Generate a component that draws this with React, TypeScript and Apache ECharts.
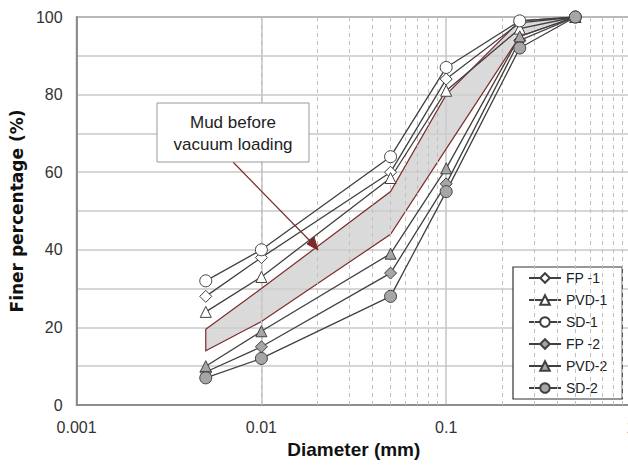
import React, { useEffect, useRef } from "react";
import * as echarts from "echarts";

const diameters = [0.005, 0.01, 0.05, 0.1, 0.25, 0.5];
const fp1 = [28, 38, 60, 84, 98.5, 100];
const pvd1 = [24, 33, 58.5, 81, 97, 100];
const sd1 = [32, 40, 64, 87, 99, 100];
const fp2 = [8.5, 15, 34, 57, 94, 100];
const pvd2 = [10, 19, 39, 61, 95, 100];
const sd2 = [7, 12, 28, 55, 92, 100];
const bandUpper = [19.5, 30, 55, 80, 99, 100];
const bandLower = [14, 21.5, 44, 66, 95, 100];
const minorGridValues = [
  0.002, 0.003, 0.004, 0.005, 0.006, 0.007, 0.008, 0.009,
  0.02, 0.03, 0.04, 0.05, 0.06, 0.07, 0.08, 0.09,
  0.2, 0.3, 0.4, 0.5, 0.6, 0.7, 0.8, 0.9,
];
const seriesNames = ["FP -1", "PVD-1", "SD-1", "FP -2", "PVD-2", "SD-2"];
const annotationText = "Mud before\nvacuum loading";

const LINE = "#404040";
const RED = "#7d2b2b";

export default function App() {
  const ref = useRef<HTMLDivElement>(null);
  useEffect(() => {
    if (!ref.current) return;
    const chart = echarts.init(ref.current, null, { renderer: "svg" });
    const pair = (ys: number[]) => diameters.map((d, i) => [d, ys[i]]);
    const mk = (name: string, ys: number[], symbol: string, size: number, fill: string) => ({
      name,
      type: "line",
      data: pair(ys),
      symbol,
      symbolSize: size,
      showAllSymbol: true,
      lineStyle: { color: LINE, width: 1.3 },
      itemStyle: { color: fill, borderColor: LINE, borderWidth: 1 },
      z: 5,
    });
    const option: any = {
      animation: false,
      backgroundColor: "#ffffff",
      textStyle: { fontFamily: "Liberation Sans, Arial, sans-serif" },
      grid: {
        left: 76,
        top: 17,
        right: 9,
        bottom: 60,
        show: true,
        borderColor: "#666",
        borderWidth: 1.5,
        backgroundColor: "transparent",
      },
      xAxis: {
        type: "log",
        logBase: 10,
        min: 0.001,
        max: 1,
        name: "Diameter (mm)",
        nameLocation: "middle",
        nameGap: 33,
        nameTextStyle: { fontSize: 19, fontWeight: "bold", color: "#111", fontFamily: "Liberation Sans, Arial, sans-serif" },
        axisLine: { show: true, lineStyle: { color: "#808080", width: 1.5 } },
        axisTick: { show: false },
        axisLabel: { fontSize: 16, color: "#333", margin: 14, fontFamily: "Liberation Sans, Arial, sans-serif" },
        splitLine: { show: true, lineStyle: { color: "#c4c4c4", width: 1.5 } },
      },
      yAxis: {
        type: "value",
        min: 0,
        max: 100,
        interval: 10,
        name: "Finer percentage (%)",
        nameLocation: "middle",
        nameGap: 48,
        nameTextStyle: { fontSize: 17, fontWeight: "bold", color: "#111", fontFamily: "DejaVu Sans, sans-serif" },
        axisLine: { show: true, lineStyle: { color: "#808080", width: 1.5 } },
        axisTick: { show: false },
        axisLabel: {
          fontSize: 16,
          color: "#333",
          margin: 14,
          formatter: (v: number) => (v % 20 === 0 ? String(v) : ""),
        },
        splitLine: { show: true, lineStyle: { color: "#c8c8c8", width: 1.5 } },
      },
      legend: {
        data: seriesNames,
        orient: "vertical",
        left: 513,
        top: 267,
        itemWidth: 32,
        itemHeight: 12,
        itemGap: 8,
        padding: [4, 15, 4, 15],
        borderColor: "#333",
        borderWidth: 1.2,
        backgroundColor: "#ffffff",
        textStyle: { fontSize: 14, color: "#222", lineHeight: 14 },
      },
      graphic: [
        {
          type: "line",
          shape: { x1: 233, y1: 162, x2: 313, y2: 244 },
          style: { stroke: RED, lineWidth: 1.2 },
          z: 10,
        },
        {
          type: "polygon",
          shape: { points: [[318, 250], [307, 244], [314, 237]] },
          style: { fill: RED, stroke: RED },
          z: 10,
        },
        {
          type: "rect",
          shape: { x: 157, y: 103, width: 152, height: 59 },
          style: { fill: "#ffffff", stroke: "#999", lineWidth: 1 },
          z: 10,
        },
        {
          type: "text",
          x: 233,
          y: 133,
          style: {
            text: annotationText,
            fontSize: 17,
            lineHeight: 22,
            fill: "#222",
            align: "center",
            verticalAlign: "middle",
            fontFamily: "Liberation Sans, Arial, sans-serif",
          },
          z: 11,
        },
      ],
      series: [
        {
          name: "minorGrid",
          type: "line",
          data: [],
          silent: true,
          markLine: {
            silent: true,
            symbol: ["none", "none"],
            label: { show: false },
            lineStyle: { color: "#c0c0c0", width: 1, type: [4, 4] },
            data: minorGridValues.map((v) => ({ xAxis: v })),
          },
          z: 1,
        },
        {
          name: "band",
          type: "custom",
          data: [[diameters[0], bandUpper[0]]],
          encode: { x: 0, y: 1 },
          renderItem: (params: any, api: any) => {
            if (params.dataIndex !== 0) return null;
            const pts: number[][] = [];
            diameters.forEach((d, i) => pts.push(api.coord([d, bandUpper[i]])));
            for (let i = diameters.length - 1; i >= 0; i--) pts.push(api.coord([diameters[i], bandLower[i]]));
            return {
              type: "polygon",
              shape: { points: pts },
              style: { fill: "rgba(205,205,205,0.75)", stroke: RED, lineWidth: 1.2 },
            };
          },
          z: 3,
        },
        mk(seriesNames[0], fp1, "diamond", 12, "#ffffff"),
        mk(seriesNames[1], pvd1, "triangle", 11, "#ffffff"),
        mk(seriesNames[2], sd1, "circle", 12, "#ffffff"),
        mk(seriesNames[3], fp2, "diamond", 12, "#a6a6a6"),
        mk(seriesNames[4], pvd2, "triangle", 11, "#a6a6a6"),
        mk(seriesNames[5], sd2, "circle", 12, "#a6a6a6"),
      ],
    };
    chart.setOption(option);
    return () => chart.dispose();
  }, []);
  return (
    <div style={{ position: "absolute", left: 0, top: 0, width: 628, height: 465, overflow: "hidden" }}>
      <div ref={ref} style={{ width: 640, height: 465 }} />
    </div>
  );
}
